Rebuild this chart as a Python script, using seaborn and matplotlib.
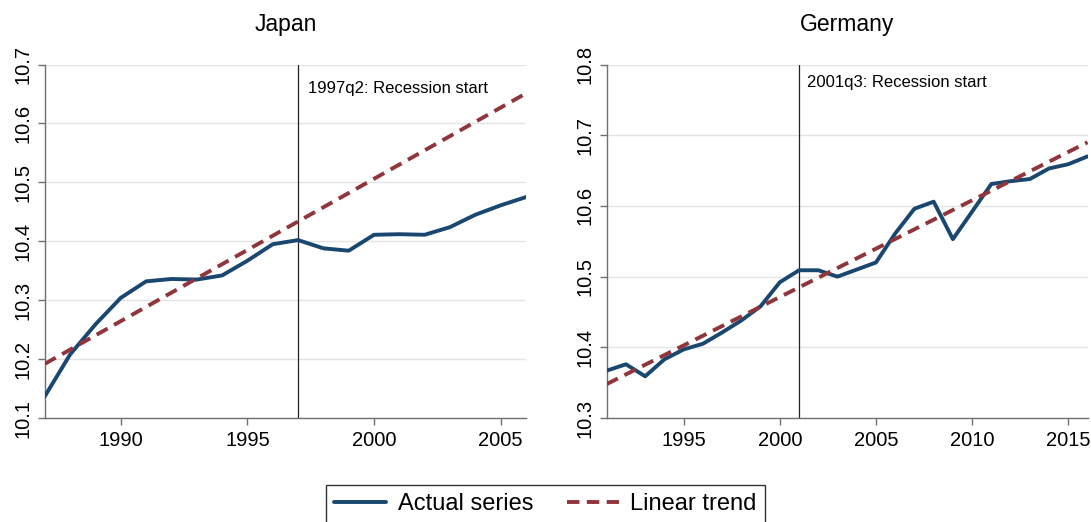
import matplotlib
matplotlib.use("Agg")
import matplotlib.pyplot as plt
import seaborn as sns
import pandas as pd
from matplotlib.lines import Line2D

# ---- data ----
japan_years = list(range(1987, 2007))
japan_actual = [10.137, 10.208, 10.259, 10.304, 10.332, 10.336, 10.335, 10.342,
                10.367, 10.395, 10.402, 10.388, 10.384, 10.411, 10.412, 10.411,
                10.424, 10.445, 10.461, 10.475]
japan_trend_years = [1987, 2006]
japan_trend = [10.192, 10.651]
japan_recession = 1997
japan_label = "1997q2: Recession start"

germany_years = list(range(1991, 2017))
germany_actual = [10.367, 10.376, 10.359, 10.383, 10.397, 10.405, 10.421, 10.438,
                  10.458, 10.492, 10.509, 10.509, 10.500, 10.510, 10.520, 10.561,
                  10.596, 10.606, 10.553, 10.592, 10.631, 10.635, 10.638, 10.653,
                  10.659, 10.670]
germany_trend_years = [1991, 2016]
germany_trend = [10.348, 10.690]
germany_recession = 2001
germany_label = "2001q3: Recession start"

japan_xticks = [1990, 1995, 2000, 2005]
japan_yticks = [10.1, 10.2, 10.3, 10.4, 10.5, 10.6, 10.7]
germany_xticks = [1995, 2000, 2005, 2010, 2015]
germany_yticks = [10.3, 10.4, 10.5, 10.6, 10.7, 10.8]

BLUE = "#1a476f"
RED = "#90353b"

sns.set_theme(style="white")
plt.rcParams["font.family"] = ["Liberation Sans", "DejaVu Sans"]
plt.rcParams["text.color"] = "black"
plt.rcParams["axes.labelcolor"] = "black"
plt.rcParams["xtick.color"] = "black"
plt.rcParams["ytick.color"] = "black"

fig = plt.figure(figsize=(10.91, 5.22), dpi=100)
ax1 = fig.add_axes([0.0411, 0.1992, 0.4410, 0.6772])
ax2 = fig.add_axes([0.5561, 0.1992, 0.4407, 0.6772])


def draw(ax, years, actual, tyears, trend, rec, label, xticks, yticks, title, label_y):
    df = pd.DataFrame({"year": years, "value": actual})
    dft = pd.DataFrame({"year": tyears, "value": trend})
    ax.set_axisbelow(True)
    for y in yticks:
        ax.axhline(y, color="#e4e4e4", lw=1.0, zorder=0)
    ax.axvline(rec, color="#222222", lw=0.9, zorder=1)
    sns.lineplot(data=df, x="year", y="value", ax=ax, color=BLUE, lw=2.8,
                 zorder=3, legend=False)
    sns.lineplot(data=dft, x="year", y="value", ax=ax, color=RED, lw=2.8,
                 dashes=False, zorder=4, legend=False)
    ax.lines[-1].set_linestyle((0, (3.2, 1.9)))
    ax.set_xlim(years[0], years[-1])
    ax.set_ylim(yticks[0], yticks[-1])
    ax.set_xticks(xticks)
    ax.set_yticks(yticks)
    ax.set_yticklabels([f"{v:.1f}" for v in yticks], rotation=90, va="center")
    ax.set_xlabel("")
    ax.set_ylabel("")
    ax.set_title(title, fontsize=16.5, pad=24, color="black")
    for s in ["top", "right"]:
        ax.spines[s].set_visible(False)
    for s in ["left", "bottom"]:
        ax.spines[s].set_color("#707070")
        ax.spines[s].set_linewidth(1.0)
    ax.tick_params(axis="both", which="both", direction="out", length=5,
                   width=1.0, color="#707070", labelcolor="black", labelsize=14.5,
                   pad=4, bottom=True, left=True)
    ax.text(rec + (xticks[1] - xticks[0]) * 0.08, label_y, label, fontsize=12,
            va="center", ha="left", color="black")


draw(ax1, japan_years, japan_actual, japan_trend_years, japan_trend,
     japan_recession, japan_label, japan_xticks, japan_yticks, "Japan", 10.66)
draw(ax2, germany_years, germany_actual, germany_trend_years, germany_trend,
     germany_recession, germany_label, germany_xticks, germany_yticks, "Germany", 10.775)

handles = [Line2D([], [], color=BLUE, lw=2.8),
           Line2D([], [], color=RED, lw=2.8, linestyle=(0, (3.2, 1.9)))]
leg = fig.legend(handles, ["Actual series", "Linear trend"], loc="upper center",
                 bbox_to_anchor=(0.5, 1 - 485 / 522), ncol=2, fontsize=17,
                 frameon=True, fancybox=False, handlelength=2.2,
                 handletextpad=0.5, columnspacing=1.4, borderpad=0.35,
                 borderaxespad=0.0)
leg.get_frame().set_edgecolor("#000000")
leg.get_frame().set_linewidth(1.0)
for t in leg.get_texts():
    t.set_color("black")

fig.savefig("out.png", dpi=100)
